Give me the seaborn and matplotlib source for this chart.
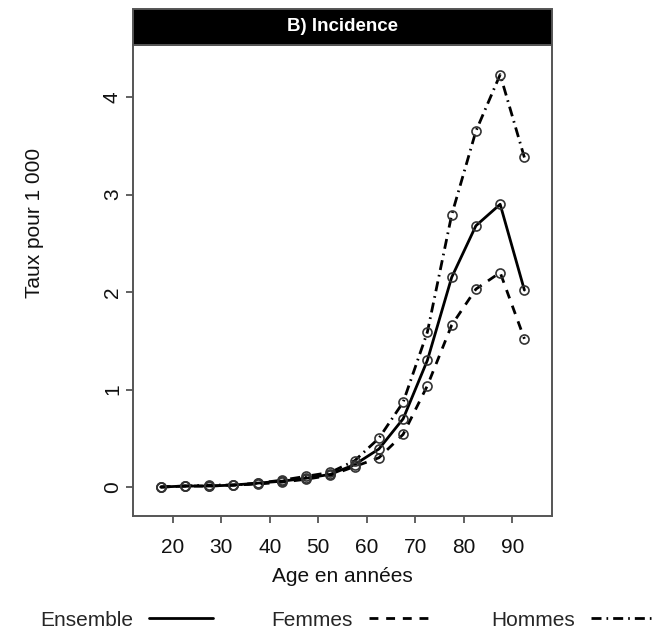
import pandas as pd
import seaborn as sns
import matplotlib.pyplot as plt
from matplotlib.lines import Line2D
from matplotlib.patches import Rectangle

# age classes (centre of 5-year groups)
ages = [17.5, 22.5, 27.5, 32.5, 37.5, 42.5, 47.5, 52.5, 57.5,
        62.5, 67.5, 72.5, 77.5, 82.5, 87.5, 92.5]

# taux pour 1 000
ensemble = [0.00, 0.01, 0.01, 0.02, 0.04, 0.06, 0.09, 0.13, 0.23,
            0.39, 0.70, 1.30, 2.15, 2.68, 2.90, 2.02]
femmes = [0.00, 0.01, 0.01, 0.02, 0.03, 0.05, 0.08, 0.12, 0.21,
          0.30, 0.54, 1.04, 1.66, 2.03, 2.20, 1.52]
hommes = [0.00, 0.01, 0.02, 0.02, 0.04, 0.07, 0.11, 0.15, 0.27,
          0.50, 0.87, 1.59, 2.79, 3.65, 4.23, 3.38]

groups = ["Ensemble", "Femmes", "Hommes"]
x_ticks = [20, 30, 40, 50, 60, 70, 80, 90]
y_ticks = [0, 1, 2, 3, 4]

df = pd.DataFrame({
    "age": ages * 3,
    "taux": ensemble + femmes + hommes,
    "groupe": [g for g in groups for _ in ages],
})

sns.set_style("white")
plt.rcParams["font.family"] = ["Liberation Sans", "DejaVu Sans"]

fig = plt.figure(figsize=(6.54, 6.3), dpi=100)
ax = fig.add_axes([0.2034, 0.181, 0.6407, 0.7476])

dash_styles = {
    "Ensemble": "-",
    "Femmes": (0, (3.2, 2.8)),
    "Hommes": (0, (3.6, 1.8, 0.6, 1.8)),
}

for g in groups:
    sub = df[df["groupe"] == g]
    sns.lineplot(data=sub, x="age", y="taux", ax=ax, color="black",
                 linewidth=2, linestyle=dash_styles[g], legend=False,
                 zorder=2)
    ax.plot(sub["age"], sub["taux"], linestyle="none", marker="o",
            markersize=6.5, markerfacecolor="none",
            markeredgecolor="#333333", markeredgewidth=1.2, zorder=3)

ax.set_xlim(11.8, 98.2)
ax.set_ylim(-0.297, 4.534)
ax.set_xticks(x_ticks)
ax.set_yticks(y_ticks)

for s in ax.spines.values():
    s.set_color("#555555")
    s.set_linewidth(1.4)

ax.tick_params(axis="both", direction="out", length=5, width=1.3,
               color="#555555", labelsize=15, labelcolor="#111111")
ax.tick_params(axis="x", pad=11, bottom=True)
ax.tick_params(axis="y", pad=3, left=True)
for lab in ax.get_yticklabels():
    lab.set_rotation(90)
    lab.set_va("center")

ax.set_xlabel("Age en années", fontsize=15, color="#111111")
ax.set_ylabel("Taux pour 1 000", fontsize=15, color="#111111")
ax.xaxis.set_label_coords(0.5, -0.108)
ax.yaxis.set_label_coords(-0.212, 0.622)

# black header strip
strip_h = 36 / 471
ax.add_patch(Rectangle((0, 1), 1, strip_h, transform=ax.transAxes,
                       facecolor="black", edgecolor="#555555",
                       linewidth=1.4, clip_on=False))
ax.text(0.5, 1 + strip_h / 2, "B) Incidence", transform=ax.transAxes,
        ha="center", va="center", color="white", fontsize=13.5,
        fontweight="bold")

handles = [Line2D([], [], color="black", linewidth=2,
                  linestyle=dash_styles[g]) for g in groups]
fig.legend(handles, groups, loc="center left",
           bbox_to_anchor=(40 / 654, 1 - 620 / 630), ncol=3,
           frameon=False, markerfirst=False, fontsize=15,
           handlelength=3.1, handletextpad=0.75, columnspacing=2.8,
           borderpad=0, borderaxespad=0)

fig.savefig("out.png", dpi=100)
